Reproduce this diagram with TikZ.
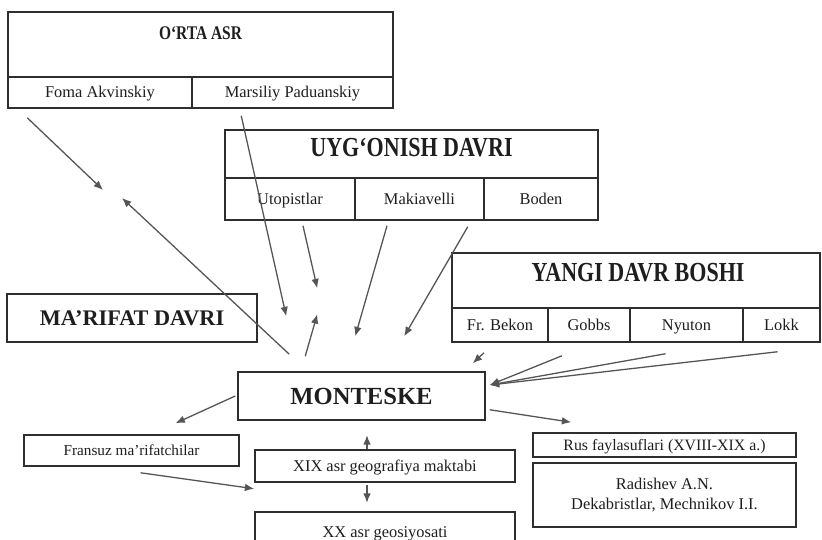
\documentclass[tikz,border=0pt]{standalone}
\usepackage{fontspec}
\setmainfont{Liberation Serif}
\newfontfamily\condserif[FakeStretch=0.8]{Liberation Serif}
\usetikzlibrary{arrows.meta}
\definecolor{boxc}{HTML}{2E2E2E}
\definecolor{txtc}{HTML}{1E1E1E}
\definecolor{arrc}{HTML}{555555}
\tikzset{
  wh/.style 2 args={minimum width=#1*0.03cm, minimum height=#2*0.03cm},
  figlines/.style={line width=1.3pt, draw=boxc},
  frame/.style={figlines, inner sep=0pt},
  cellbase/.style={figlines, inner sep=0pt, text=txtc, font=\fontsize{14}{16}\selectfont},
  cell/.style={cellbase, text height=12pt, text depth=3pt},
  ttl/.style={text=txtc, inner sep=0pt, font=\condserif\bfseries\fontsize{23.5}{27}\selectfont},
  bigttl/.style={figlines, inner sep=0pt, text=txtc, font=\bfseries\fontsize{19}{23}\selectfont},
  arr/.style={draw=arrc, line width=1.1pt, -{Latex[length=8pt,width=6.5pt]}},
}
\begin{document}
\begin{tikzpicture}[x=0.03cm,y=-0.03cm]
\fill[white] (0,0) rectangle (822,540);
\useasboundingbox (0,0) rectangle (822,540);
% O'rta asr
\node[frame, wh={385}{96}] (orta) at (200.5,60) {};
\node[ttl, font=\condserif\bfseries\fontsize{16.5}{19}\selectfont] (ortat) at (200.5,33) {O‘RTA ASR};
\node[cell, wh={184}{31}] (foma) at (100,92.5) {Foma Akvinskiy};
\node[cell, wh={201}{31}] (marsiliy) at (292.5,92.5) {Marsiliy Paduanskiy};
% Uyg'onish davri
\node[frame, wh={373}{90}] (uyg) at (411.5,175) {};
\node[ttl] (uygt) at (411.5,148) {UYG‘ONISH DAVRI};
\node[cell, wh={130}{42}] (utop) at (290,199) {Utopistlar};
\node[cell, wh={129}{42}] (maki) at (419.5,199) {Makiavelli};
\node[cell, wh={114}{42}] (boden) at (541,199) {Boden};
% Yangi davr boshi
\node[frame, wh={368}{89}] (yangi) at (636,297.5) {};
\node[ttl] (yangit) at (638,273) {YANGI DAVR BOSHI};
\node[cell, wh={96}{34}] (bekon) at (500,325) {Fr. Bekon};
\node[cell, wh={82}{34}] (gobbs) at (589,325) {Gobbs};
\node[cell, wh={113}{34}] (nyuton) at (686.5,325) {Nyuton};
\node[cell, wh={77}{34}] (lokk) at (781.5,325) {Lokk};
% Ma'rifat davri va Monteske
\node[bigttl, wh={250}{48}] (marifat) at (132,318) {MA’RIFAT DAVRI};
\node[bigttl, wh={247}{48}, font=\bfseries\fontsize{21}{25}\selectfont] (mont) at (361.5,396) {MONTESKE};
% quyi qatorlar
\node[cell, wh={215}{31}, font=\fontsize{13}{15}\selectfont] (fran) at (131.5,450.5) {Fransuz ma’rifatchilar};
\node[cell, wh={260}{32}] (xix) at (385,466) {XIX asr geografiya maktabi};
\node[cell, wh={260}{40}] (xx) at (385,532) {XX asr geosiyosati};
\node[cell, wh={263}{24}, font=\fontsize{13.5}{15}\selectfont] (rus) at (664.5,445) {Rus faylasuflari (XVIII-XIX a.)};
\node[cellbase, wh={263}{64}, align=center, font=\fontsize{14}{17}\selectfont] (radi) at (664.5,495) {Radishev A.N.\\Dekabristlar, Mechnikov I.I.};
% bog'lovchilar
\coordinate (g1) at (103,190);
\coordinate (g2) at (122,198);
\coordinate (mr) at ([shift={(4,-11)}]mont.east);
\draw[arr] ([shift={(20,9)}]foma.south west) -- (g1);
\draw[arr] ([shift={(52,-17)}]mont.north west) -- (g2);
\draw[arr] ([shift={(50,7)}]marsiliy.south west) -- ([shift={(49,-55)}]mont.north west);
\draw[arr] ([shift={(13,5)}]utop.south) -- ([shift={(80,-83)}]mont.north west);
\draw[arr] ([shift={(68,-15)}]mont.north west) -- ([shift={(80,-57)}]mont.north west);
\draw[arr] ([shift={(-32.5,5)}]maki.south) -- ([shift={(118,-35)}]mont.north west);
\draw[arr] ([shift={(-17,6)}]maki.south east) -- ([shift={(167,-35)}]mont.north west);
\draw[arr] ([shift={(-16,10)}]bekon.south) -- ([shift={(-13,-8)}]mont.north east);
\foreach \n/\dx/\dy in {gobbs/-27/13, nyuton/-21/11, lokk/-4/9}
  \draw[arr] ([shift={(\dx,\dy)}]\n.south) -- (mr);
\draw[arr] ([shift={(4,-11)}]mont.south east) -- ([shift={(39,-10)}]rus.north west);
\draw[arr] ([shift={(-2,0)}]mont.west) -- ([shift={(44,-11)}]fran.north);
\draw[arr] ([shift={(9,6)}]fran.south) -- ([shift={(0,6)}]xix.south west);
\draw[arr] ([shift={(-18,0)}]xix.north) -- ([shift={(-18,-14)}]xix.north);
\draw[arr] ([shift={(-18,2)}]xix.south) -- ([shift={(-18,20)}]xix.south);
\end{tikzpicture}
\end{document}
